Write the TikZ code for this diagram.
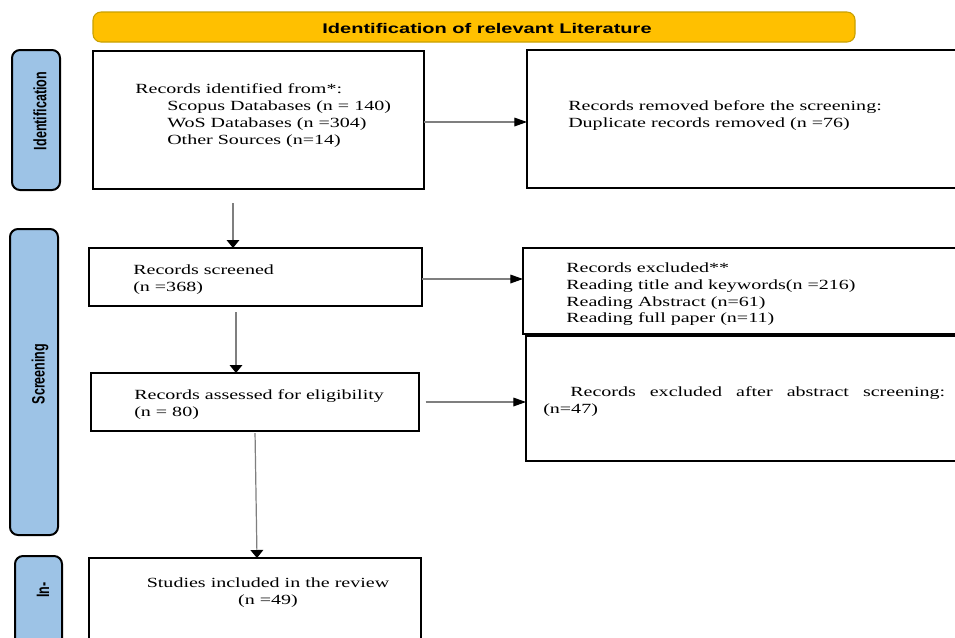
\documentclass[tikz,border=0pt]{standalone}
\usepackage{fontspec}
\usetikzlibrary{arrows.meta}
\newfontfamily\serifw[FakeStretch=1.43]{Liberation Serif}
\newfontfamily\sansw[FakeStretch=1.43]{Liberation Sans}
\newfontfamily\sansn{Liberation Sans}
\definecolor{gold}{HTML}{FFC000}
\definecolor{golddark}{HTML}{C9A000}
\definecolor{sidebl}{HTML}{9DC3E6}
\definecolor{arrgray}{HTML}{7F7F7F}
\newcommand\mkbox[6]{%
  \node[#6, minimum width={(#4-#2)*0.75pt}, minimum height={(#5-#3)*0.75pt}]
    (#1) at ({(#2+#4)/2},{(#3+#5)/2}) {};}
\tikzset{
  flowbox/.style={draw=black, line width=1.5pt, inner sep=0pt, outer sep=0pt, fill=white},
  sidebar/.style={draw=black, line width=1.5pt, fill=sidebl, rounded corners=6pt, inner sep=0pt, outer sep=0pt},
  banner/.style={draw=golddark, line width=0.8pt, fill=gold, rounded corners=6pt, inner sep=0pt, outer sep=0pt},
  txt/.style={font=\serifw\fontsize{10.5}{12.6}\selectfont, inner sep=0pt, align=left, anchor=north west},
  sidelbl/.style={font=\sansn\bfseries\fontsize{9.4}{11}\selectfont, rotate=90, inner sep=0pt},
  harr/.style={draw=arrgray, line width=0.9pt, -{Triangle[length=9.5pt,width=6.5pt,color=black]}},
  varr/.style={draw=arrgray, line width=0.9pt, -{Triangle[length=6pt,width=9.5pt,color=black]}},
}
\begin{document}
\begin{tikzpicture}[x=0.75pt,y=-0.75pt]
\useasboundingbox (0,0) rectangle (955,637);
\clip (0,0) rectangle (955,637);
\fill[white] (0,0) rectangle (955,637);

% banner
\mkbox{ban}{93}{12}{855}{42}{banner}
\node[font=\sansw\bfseries\fontsize{10.5}{12}\selectfont, inner sep=0pt] (bantxt) at (487,28) {Identification of relevant Literature};

% side bars
\mkbox{sideA}{12}{50}{60}{190}{sidebar}
\mkbox{sideB}{10}{229}{58}{535}{sidebar}
\mkbox{sideC}{15}{556}{62}{670}{sidebar}
\node[sidelbl] (lblA) at (40,111) {\scalebox{1}[1.43]{Identification}};
\node[sidelbl] (lblB) at (40,374) {\scalebox{1}[1.43]{Screening}};
\node[sidelbl] (lblC) at (43,590) {\scalebox{1}[1.43]{In-}};

% boxes
\mkbox{ident}{93}{51}{424}{189}{flowbox}
\mkbox{removed}{527}{50}{965}{188}{flowbox}
\mkbox{screened}{89}{248}{422}{306}{flowbox}
\mkbox{excluded}{523}{248}{965}{334}{flowbox}
\mkbox{assessed}{91}{373}{419}{431}{flowbox}
\mkbox{after}{526}{336}{965}{461}{flowbox}
\mkbox{included}{89}{558}{421}{680}{flowbox}

% texts
\node[txt] (t1) at (135,83.5) {Records identified from*:\\
\hspace*{24pt}Scopus Databases (n = 140)\\
\hspace*{24pt}WoS Databases (n =304)\\
\hspace*{24pt}Other Sources (n=14)};
\node[txt] (t2) at (568,100.5) {Records removed before the screening:\\Duplicate records removed (n =76)};
\node[txt] (t3) at (133,264.5) {Records screened\\(n =368)};
\node[txt] (t4) at (566,262.5) {Records excluded**\\Reading title and keywords(n =216)\\Reading Abstract (n=61)\\Reading full paper (n=11)};
\node[txt] (t5) at (134,389.5) {Records assessed for eligibility\\(n = 80)};
\node[txt] (t6) at (543,386.5) {\hspace*{20.25pt}\hbox to 281.25pt{Records\hfill excluded\hfill after\hfill abstract\hfill screening:}\\(n=47)};
\node[txt, anchor=north, align=center] (t7) at (268,577.5) {Studies included in the review\\(n =49)};

% helper coordinates for connector levels
\coordinate (yA) at (0,122);
\coordinate (yB) at (0,279);
\coordinate (yC) at (0,402);
\coordinate (xA) at (233,0);
\coordinate (xB) at (236,0);
\coordinate (xC) at (255,0);
\coordinate (xD) at (257,0);

% connectors
\draw[harr] (ident.east |- yA) -- (removed.west |- yA);
\draw[varr, shorten <=10.5pt] (ident.south -| xA) -- (screened.north -| xA);
\draw[harr] (screened.east |- yB) -- (excluded.west |- yB);
\draw[varr, shorten <=4.5pt] (screened.south -| xB) -- (assessed.north -| xB);
\draw[harr, shorten <=5pt] (assessed.east |- yC) -- (after.west |- yC);
\draw[varr, shorten <=1.5pt] (assessed.south -| xC) -- (included.north -| xD);
\end{tikzpicture}
\end{document}
